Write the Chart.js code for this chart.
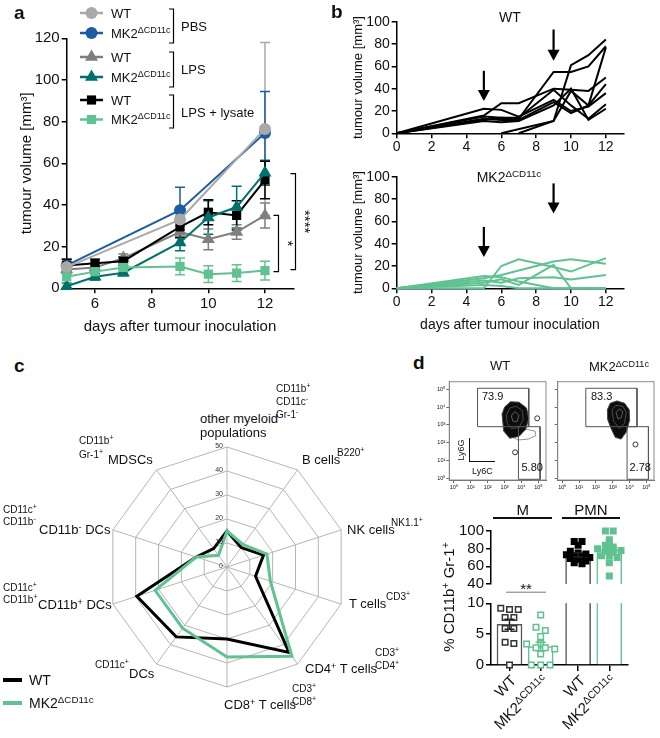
<!DOCTYPE html>
<html><head><meta charset="utf-8"><title>chart</title>
<script src="https://cdn.jsdelivr.net/npm/chart.js@4.4.1/dist/chart.umd.min.js"></script>
<style>
html,body{margin:0;padding:0;background:#fff}
body{width:660px;height:738px;position:relative;overflow:hidden;font-family:'Liberation Sans',Arial,Helvetica,sans-serif;color:#111}
canvas{position:absolute}
.t{position:absolute;white-space:nowrap;line-height:1}
.s{font-size:70%;position:relative;top:-0.48em}
.ln{position:absolute;background:#000}
</style></head><body>
<canvas id="cA" width="330" height="340" style="left:0;top:0;width:330px;height:340px"></canvas>
<canvas id="cB1" width="330" height="160" style="left:330px;top:0;width:330px;height:160px"></canvas>
<canvas id="cB2" width="330" height="178" style="left:330px;top:160px;width:330px;height:178px"></canvas>
<canvas id="cC" width="260" height="260" style="left:97px;top:437px;width:260px;height:260px"></canvas>
<canvas id="cF1" width="127" height="120" style="left:424px;top:376px;width:127px;height:120px"></canvas>
<canvas id="cF2" width="127" height="120" style="left:532px;top:376px;width:127px;height:120px"></canvas>
<canvas id="cD1" width="210" height="75" style="left:430px;top:520px;width:210px;height:75px"></canvas>
<canvas id="cD2" width="210" height="100" style="left:430px;top:580px;width:210px;height:100px"></canvas>
<script>
// ================= DATA =================
// panel a : mean tumour volume (mm3) +- error
const daysA = [5, 6, 7, 9, 10, 11, 12];
const pbsWT      = [10.2, null, null, 33, null, null, 76.5];
const pbsWTErr   = [3, null, null, 5, null, null, 41.5];
const pbsMK2     = [11, null, null, 37.5, null, null, 74.5];
const pbsMK2Err  = [3, null, null, 11, null, null, 20];
const lpsWT      = [9, 10, 14.5, 27, 23.5, 27, 35];
const lpsWTErr   = [2, 2, 2, 3, 5, 3.5, 6];
const lpsMK2     = [1, 5.5, 7.5, 22, 34, 39, 55.5];
const lpsMK2Err  = [1.5, 1.5, 1.5, 4, 8, 10, 6];
const lysWT      = [11, 12, 13, 29.5, 36.5, 35, 52];
const lysWTErr   = [3, 2, 2, 5, 6, 7, 9];
const lysMK2     = [5.5, 8, 10, 10.5, 6.8, 7.3, 8.5];
const lysMK2Err  = [3, 3, 2, 4, 4, 4, 4.5];
const ticksAx = [6, 8, 10, 12];
const ticksAy = [0, 20, 40, 60, 80, 100, 120];
// significance brackets (value range)
const sigStar1 = [35, 8];
const sigStar4 = [55, 9];

// panel b : individual mice
const daysB = [0, 5, 6, 7, 9, 10, 11, 12];
const wtMice = [
  [0, 22, 21, 15, 30, 20, 24, 36],
  [0, 16, 27, 27, 40, 39, 38, 50],
  [0, 15, 14, 13, 55, 55, 60, 78],
  [0, 13, 12, 12, 28, 18, 25, 44],
  [0, 11, 10, 11, 25, 40, 12, 22],
  [0, 12, 14, 14, 39, 25, 13, 26],
  [null, null, 0, null, 11, 61, 70, 84],
  [null, null, null, 0, 11, 38, 25, 77]
];
const mkMice = [
  [0, 11, 10, 6, 0, 0, 0, 0],
  [0, 0, 20, 26, 19, 15, 21, 27],
  [0, 9, 12, 16, 24, 26, 24, 22],
  [0, 7, 5, 9, 10, 8, 10, 12],
  [0, 5, 8, 3, 21, 0, 0, 0],
  [0, 3, 2, 0, 0, 0, 0, 0]
];
const ticksBx = [0, 2, 4, 6, 8, 10, 12];
const ticksBy = [0, 20, 40, 60, 80, 100];
// injection arrows: [day, from value, to value]
const arrowsWT = [[5, 56, 29], [9, 93, 65]];
const arrowsMK = [[5, 55, 28], [9, 94, 67]];

// panel c : radar
const radarAxes = ['other myeloid populations', 'B cells', 'NK cells', 'T cells', 'CD4+ T cells', 'CD8+ T cells', 'CD11c+ DCs', 'CD11b+ DCs', 'CD11b- DCs', 'MDSCs'];
const radarWT  = [15, 10, 16, 12.5, 44, 30, 36, 39.5, 13.5, 9.5];
const radarMK2 = [15, 11.5, 17.5, 19, 46, 37.5, 31.5, 31.5, 13.5, 6];
const radarTicks = [0, 10, 20, 30, 40, 50];

// panel d : flow plots (log10 units)
const flowTicks = [0, 1, 2, 3, 4, 5];
const gateWTUpper = [1.4, 4.43, 2.9, 5.06];
const gateWTLower = [3.82, 5.1, -0.06, 2.9];
const gateMKUpper = [1.4, 4.44, 2.9, 5.06];
const gateMKLower = [3.85, 5.12, -0.06, 2.9];
const wtOutliers = [[4.93, 3.37], [3.62, 1.46]];
const mkOutliers = [[4.35, 1.9]];
const wtTail  = [[3.7,2.6],[4.3,2.75],[4.8,2.65],[4.85,2.4],[4.4,2.2],[3.8,2.15],[3.5,2.3]];
const wtOuter = [[2.85,3.6],[3.0,4.0],[3.35,4.3],[3.85,4.28],[4.3,3.95],[4.43,3.35],[4.25,2.75],[3.85,2.35],[3.3,2.25],[2.95,2.65]];
const wtMid   = [[3.1,3.55],[3.3,3.95],[3.7,4.05],[4.05,3.8],[4.1,3.3],[3.85,2.85],[3.4,2.8],[3.15,3.1]];
const wtInner = [[3.4,3.5],[3.6,3.75],[3.85,3.55],[3.75,3.2],[3.5,3.2]];
const mkOuter = [[2.68,3.85],[2.85,4.22],[3.25,4.35],[3.7,4.22],[3.98,3.85],[4.0,3.25],[3.8,2.6],[3.5,2.2],[3.15,2.3],[2.9,2.8],[2.7,3.3]];
const mkMid   = [[2.95,3.85],[3.2,4.1],[3.6,4.05],[3.8,3.7],[3.7,3.1],[3.4,2.8],[3.05,3.2]];
const mkInner = [[3.2,3.7],[3.4,3.9],[3.6,3.75],[3.5,3.4],[3.3,3.35]];

// panel d : % CD11b+ Gr-1+
const groupX = [1, 2, 3.2, 4.2];
const catLabels = ['WT', 'MK2<span class="s">ΔCD11c</span>', 'WT', 'MK2<span class="s">ΔCD11c</span>'];
const barMeans = [6.6, 3.0, 73, 78.5];
const barErr = [0.8, 0.7, 2.5, 3];
const mWT   = [9.2, 9.0, 9.0, 7.7, 7.7, 5.9, 5.9, 3.7, 3.5, 0];
const mMK2  = [8.1, 6.1, 5.6, 4.6, 3.5, 3.4, 2.8, 2.8, 2.6, 1.8, 0, 0, 0];
const pmnWT = [88, 88, 84, 77, 75, 74, 73, 72, 71, 70, 69, 68, 66, 64, 63];
const pmnMK2= [100, 100, 90, 86, 84, 82, 80, 80, 79, 78, 77, 76, 72, 72, 70, 64, 49];
const ticksDTop = [40, 60, 80, 100];
const ticksDBot = [0, 5, 10];
const sigDStar2 = [0.888, 2.17, 11.8];

// ================= STYLE / HELPERS =================
const GREEN = '#5fc290';
Chart.defaults.font.family = "'Liberation Sans', Arial, Helvetica, sans-serif";
Chart.defaults.color = '#111';
Chart.defaults.animation = false;
Chart.defaults.responsive = false;
Chart.defaults.devicePixelRatio = 1;
Chart.defaults.events = [];
Chart.defaults.plugins.legend.display = false;
Chart.defaults.plugins.tooltip.enabled = false;

function mkAxis(o) {
  return {
    type: 'linear', position: o.pos, min: o.min, max: o.max, offset: false,
    display: o.display === false ? false : true,
    afterBuildTicks: s => { s.ticks = o.ticks.map(v => ({ value: v })); },
    afterFit: s => { if (o.size != null) { if (o.pos === 'bottom' || o.pos === 'top') s.height = o.size; else s.width = o.size; } },
    grid: { display: true, offset: false, drawOnChartArea: false, drawTicks: true, tickLength: o.tl == null ? 5 : o.tl, color: o.gc || '#000', lineWidth: o.gw || 1.5 },
    border: { display: true, color: o.gc || '#000', width: o.gw || 1.5 },
    ticks: { display: true, autoSkip: false, maxRotation: 0, minRotation: 0, padding: o.tp == null ? 2 : o.tp, font: { size: o.fs || 14 }, color: '#111', callback: o.cb || (v => String(v)) },
    title: o.title ? { display: true, text: o.title, padding: 0, font: { size: o.tfs || o.fs }, color: '#111' } : { display: false }
  };
}
function drawMarker(ctx, style, x, y, r) {
  ctx.beginPath();
  if (style === 'circle') ctx.arc(x, y, r, 0, 2 * Math.PI);
  else if (style === 'triangle') { ctx.moveTo(x, y - r); ctx.lineTo(x + 0.866 * r, y + 0.5 * r); ctx.lineTo(x - 0.866 * r, y + 0.5 * r); ctx.closePath(); }
  else { const h = r * Math.SQRT1_2; ctx.rect(x - h, y - h, 2 * h, 2 * h); }
  ctx.fill();
}
function errorBarPlugin(when, margin, cap) {
  const p = { id: 'errbars' + when };
  p[when] = function (chart) {
    const ctx = chart.ctx, xs = chart.scales.x, ys = chart.scales.y, a = chart.chartArea;
    ctx.save();
    ctx.beginPath(); ctx.rect(a.left - margin, a.top - margin, a.right - a.left + 2 * margin, a.bottom - a.top + 2 * margin); ctx.clip();
    chart.data.datasets.forEach(ds => {
      if (!ds.errorBars) return;
      ds.data.forEach((pt, j) => {
        const e = ds.errorBars[j]; if (e == null) return;
        const c = Array.isArray(ds.errorColor) ? ds.errorColor[j] : (ds.errorColor || ds.borderColor);
        ctx.strokeStyle = c; ctx.lineWidth = 1.5;
        const x = xs.getPixelForValue(pt.x), yt = ys.getPixelForValue(pt.y + e), yb = ys.getPixelForValue(pt.y - e);
        ctx.beginPath();
        ctx.moveTo(x, yt); ctx.lineTo(x, yb);
        ctx.moveTo(x - cap, yt); ctx.lineTo(x + cap, yt);
        ctx.moveTo(x - cap, yb); ctx.lineTo(x + cap, yb);
        ctx.stroke();
      });
    });
    ctx.restore();
  };
  return p;
}
function pts(xs, vals) { const out = []; xs.forEach((x, i) => { if (vals[i] != null) out.push({ x: x, y: vals[i] }); }); return out; }
function errs(vals, e) { const out = []; vals.forEach((v, i) => { if (v != null) out.push(e[i]); }); return out; }

// ================= PANEL A =================
const seriesA = [
  { vals: pbsWT, err: pbsWTErr, color: '#a9a9a9', style: 'circle', r: 6, order: 1, mk2: false },
  { vals: pbsMK2, err: pbsMK2Err, color: '#1d5c9e', style: 'circle', r: 6, order: 5, mk2: true },
  { vals: lpsWT, err: lpsWTErr, color: '#7f7f7f', style: 'triangle', r: 7.5, order: 4, mk2: false },
  { vals: lpsMK2, err: lpsMK2Err, color: '#00706c', style: 'triangle', r: 7.5, order: 2, mk2: true },
  { vals: lysWT, err: lysWTErr, color: '#000000', style: 'rect', r: 6.5, order: 3, mk2: false },
  { vals: lysMK2, err: lysMK2Err, color: GREEN, style: 'rect', r: 6.5, order: 0, mk2: true }
];
const legendA = {
  id: 'legA',
  afterDraw(chart) {
    const ctx = chart.ctx;
    const rows = [13, 33, 57, 77, 100, 119.5];
    ctx.save();
    seriesA.forEach((s, i) => {
      const y = rows[i];
      ctx.strokeStyle = s.color; ctx.fillStyle = s.color; ctx.lineWidth = 2.5;
      ctx.beginPath(); ctx.moveTo(80, y); ctx.lineTo(103, y); ctx.stroke();
      drawMarker(ctx, s.style, 91.5, y, s.r);
      ctx.fillStyle = '#111'; ctx.textBaseline = 'alphabetic'; ctx.textAlign = 'left';
      ctx.font = "13px 'Liberation Sans', Arial";
      if (!s.mk2) ctx.fillText('WT', 111, y + 4.7);
      else {
        ctx.fillText('MK2', 111, y + 4.7);
        const w = ctx.measureText('MK2').width;
        ctx.font = "9px 'Liberation Sans', Arial";
        ctx.fillText('ΔCD11c', 111 + w, y - 0.5);
      }
    });
    ctx.strokeStyle = '#000'; ctx.lineWidth = 1.2;
    const br = [[9, 43, 'PBS', 26], [52, 87, 'LPS', 69], [95, 128, 'LPS + lysate', 112]];
    br.forEach(b => {
      ctx.beginPath(); ctx.moveTo(169, b[0]); ctx.lineTo(173.5, b[0]); ctx.lineTo(173.5, b[1]); ctx.lineTo(169, b[1]); ctx.stroke();
      ctx.font = "13px 'Liberation Sans', Arial"; ctx.fillStyle = '#111';
      ctx.fillText(b[2], 181, b[3] + 4.7);
    });
    ctx.restore();
  }
};
const sigA = {
  id: 'sigA',
  afterDraw(chart) {
    const ctx = chart.ctx, ys = chart.scales.y;
    ctx.save(); ctx.strokeStyle = '#000'; ctx.lineWidth = 1.2; ctx.fillStyle = '#111';
    [[278.5, sigStar1, '*', 287], [295.5, sigStar4, '****', 304]].forEach(b => {
      const y0 = ys.getPixelForValue(b[1][0]), y1 = ys.getPixelForValue(b[1][1]);
      ctx.beginPath(); ctx.moveTo(b[0] - 5, y0); ctx.lineTo(b[0], y0); ctx.lineTo(b[0], y1); ctx.lineTo(b[0] - 5, y1); ctx.stroke();
      ctx.save(); ctx.translate(b[3], (y0 + y1) / 2); ctx.rotate(Math.PI / 2);
      ctx.font = "15px 'Liberation Sans', Arial"; ctx.textAlign = 'center'; ctx.textBaseline = 'middle';
      ctx.fillText(b[2], 0, 0); ctx.restore();
    });
    ctx.restore();
  }
};
new Chart(document.getElementById('cA'), {
  type: 'line',
  data: {
    datasets: seriesA.map(s => ({
      data: pts(daysA, s.vals), errorBars: errs(s.vals, s.err),
      borderColor: s.color, backgroundColor: s.color, borderWidth: 2, tension: 0,
      pointStyle: s.style, pointRadius: s.r, pointBackgroundColor: s.color, pointBorderWidth: 0,
      order: s.order, clip: false, spanGaps: true
    }))
  },
  options: {
    layout: { padding: { left: 17.5, top: 38.3, right: 36.7, bottom: 4.6 } },
    scales: {
      x: mkAxis({ pos: 'bottom', min: 5, max: 13, ticks: ticksAx, fs: 15, size: 47.1, title: 'days after tumour inoculation', tp: 2 }),
      y: mkAxis({ pos: 'left', min: 0, max: 120, ticks: ticksAy, fs: 15, size: 49.2, title: 'tumour volume [mm³]', tp: 2 })
    }
  },
  plugins: [errorBarPlugin('beforeDatasetsDraw', 12, 5), legendA, sigA]
});

// ================= PANEL B =================
function arrowPlugin(list) {
  return {
    id: 'arrows',
    afterDatasetsDraw(chart) {
      const ctx = chart.ctx, xs = chart.scales.x, ys = chart.scales.y;
      ctx.save(); ctx.strokeStyle = '#000'; ctx.fillStyle = '#000'; ctx.lineWidth = 2.2;
      list.forEach(a => {
        const x = xs.getPixelForValue(a[0]), y0 = ys.getPixelForValue(a[1]), y1 = ys.getPixelForValue(a[2]);
        ctx.beginPath(); ctx.moveTo(x, y0); ctx.lineTo(x, y1 - 9); ctx.stroke();
        ctx.beginPath(); ctx.moveTo(x - 6, y1 - 11); ctx.lineTo(x + 6, y1 - 11); ctx.lineTo(x, y1); ctx.closePath(); ctx.fill();
      });
      ctx.restore();
    }
  };
}
function miceChart(id, mice, color, arrows, xTitle, pad, xSize) {
  return new Chart(document.getElementById(id), {
    type: 'line',
    data: { datasets: mice.map(m => ({ data: pts(daysB, m), borderColor: color, borderWidth: 2, pointRadius: 0, tension: 0, clip: false, spanGaps: true })) },
    options: {
      layout: { padding: pad },
      scales: {
        x: mkAxis({ pos: 'bottom', min: 0, max: 13, ticks: ticksBx, fs: 14, size: xSize, title: xTitle, tp: 0 }),
        y: mkAxis({ pos: 'left', min: 0, max: 100, ticks: ticksBy, fs: 14, size: 46.5, title: 'tumour volume [mm³]', tfs: 13, tp: 2 })
      }
    },
    plugins: [arrowPlugin(arrows)]
  });
}
miceChart('cB1', wtMice, '#000', arrowsWT, null, { left: 20.2, top: 21.7, right: 36.7, bottom: 0 }, 26.7);
miceChart('cB2', mkMice, GREEN, arrowsMK, 'days after tumour inoculation', { left: 20.2, top: 16.7, right: 36.7, bottom: 4.6 }, 45.1);

// ================= PANEL C =================
const radarTickPlugin = {
  id: 'rticks',
  afterDraw(chart) {
    const r = chart.scales.r, ctx = chart.ctx;
    ctx.save(); ctx.font = "7px 'Liberation Sans', Arial"; ctx.fillStyle = '#333';
    ctx.textAlign = 'right'; ctx.textBaseline = 'middle';
    radarTicks.forEach(v => { ctx.fillText(String(v), r.xCenter - 4, r.yCenter - r.getDistanceFromCenterForValue(v) - 1); });
    ctx.restore();
  }
};
new Chart(document.getElementById('cC'), {
  type: 'radar',
  data: {
    labels: radarAxes,
    datasets: [
      { data: radarMK2, borderColor: GREEN, borderWidth: 3, pointRadius: 0, fill: false, tension: 0, borderJoinStyle: 'miter' },
      { data: radarWT, borderColor: '#000', borderWidth: 3, pointRadius: 0, fill: false, tension: 0, borderJoinStyle: 'miter' }
    ]
  },
  options: {
    layout: { padding: 10 },
    scales: {
      r: {
        min: 0, max: 50, beginAtZero: true,
        ticks: { display: false, stepSize: 10 },
        pointLabels: { display: false },
        grid: { color: '#b5b5b5', lineWidth: 1, circular: false },
        angleLines: { color: '#b5b5b5', lineWidth: 1 }
      }
    }
  },
  plugins: [radarTickPlugin]
});

// ================= PANEL D : FLOW =================
const supd = ['⁰', '¹', '²', '³', '⁴', '⁵'];
function contourPlugin(list) {
  return {
    id: 'contours',
    beforeDatasetsDraw(chart) {
      const ctx = chart.ctx, xs = chart.scales.x, ys = chart.scales.y, a = chart.chartArea;
      ctx.save();
      ctx.strokeStyle = '#8a8a8a'; ctx.lineWidth = 1; ctx.strokeRect(a.left, a.top, a.right - a.left, a.bottom - a.top);
      list.forEach(c => {
        ctx.beginPath();
        c.pts.forEach((p, i) => { const x = xs.getPixelForValue(p[0]), y = ys.getPixelForValue(p[1]); if (i === 0) ctx.moveTo(x, y); else ctx.lineTo(x, y); });
        ctx.closePath();
        if (c.fill) { ctx.fillStyle = c.fill; ctx.fill(); }
        if (c.stroke) { ctx.strokeStyle = c.stroke; ctx.lineWidth = c.lw || 0.8; ctx.stroke(); }
      });
      ctx.restore();
    }
  };
}
function gateDS(g) {
  return { data: [{ x: g[0], y: g[2] }, { x: g[0], y: g[3] }, { x: g[1], y: g[3] }, { x: g[1], y: g[2] }, { x: g[0], y: g[2] }],
    showLine: true, borderColor: '#555', borderWidth: 1, pointRadius: 0, clip: false, tension: 0 };
}
function flowChart(id, gates, outliers, contours, yLabels, yWidth, padRight) {
  const ds = gates.map(gateDS);
  ds.unshift({ data: outliers.map(p => ({ x: p[0], y: p[1] })), pointRadius: 2.5, pointBackgroundColor: '#fff', pointBorderColor: '#333', pointBorderWidth: 1, showLine: false, clip: false });
  return new Chart(document.getElementById(id), {
    type: 'scatter',
    data: { datasets: ds },
    options: {
      layout: { padding: { left: 0, top: 5.7, right: padRight, bottom: 0 } },
      scales: {
        x: mkAxis({ pos: 'bottom', min: -0.27, max: 5.45, ticks: flowTicks, fs: 5.5, size: 16, tl: 3, gc: '#666', gw: 1, tp: 1, cb: v => '10' + supd[v] }),
        y: mkAxis({ pos: 'left', min: -0.1, max: 5.43, ticks: flowTicks, fs: 5.5, size: yWidth, tl: 3, gc: '#666', gw: 1, tp: 1, cb: yLabels ? (v => '10' + supd[v]) : (() => '') })
      }
    },
    plugins: [contourPlugin(contours)]
  });
}
flowChart('cF1', [gateWTUpper, gateWTLower], wtOutliers, [
  { pts: wtTail, stroke: '#777', lw: 0.8 },
  { pts: wtOuter, fill: '#0d0d0d', stroke: '#444', lw: 1 },
  { pts: wtMid, stroke: '#888', lw: 0.5 },
  { pts: wtInner, stroke: '#aaa', lw: 0.5 }
], true, 25.3, 2.7);
flowChart('cF2', [gateMKUpper, gateMKLower], mkOutliers, [
  { pts: mkOuter, fill: '#0d0d0d', stroke: '#444', lw: 1 },
  { pts: mkMid, stroke: '#888', lw: 0.5 },
  { pts: mkInner, stroke: '#aaa', lw: 0.5 }
], false, 25.7, 2.3);

// ================= PANEL D : BARS =================
function swarm(vals, bin, spacing) {
  const groups = {}, offs = [];
  vals.forEach((v, i) => { const k = Math.round(v / bin); (groups[k] = groups[k] || []).push(i); });
  Object.values(groups).forEach(idx => idx.forEach((i, j) => { offs[i] = (j - (idx.length - 1) / 2) * spacing; }));
  return offs;
}
function dotDS(vals, gx, bin, spacing, border, fill) {
  const o = swarm(vals, bin, spacing);
  return { type: 'scatter', data: vals.map((v, i) => ({ x: gx + o[i], y: v })), pointStyle: 'rect', pointRadius: 3.9,
    pointBorderColor: border, pointBackgroundColor: fill, pointBorderWidth: 1.5, clip: false, order: 0 };
}
function barDS() {
  return { type: 'bar', data: groupX.map((x, i) => ({ x: x, y: barMeans[i] })), errorBars: barErr, errorColor: ['#222', GREEN, '#222', GREEN],
    backgroundColor: '#fff', borderColor: ['#555', GREEN, '#555', GREEN], borderWidth: 1.5, barThickness: 25, clip: 0, order: 5, grouped: false };
}
new Chart(document.getElementById('cD1'), {
  type: 'bar',
  data: { datasets: [barDS(), dotDS(pmnWT, groupX[2], 4, 0.25, '#000', '#000'), dotDS(pmnMK2, groupX[3], 4, 0.25, GREEN, GREEN)] },
  options: {
    layout: { padding: { left: 0, top: 11, right: 12, bottom: 8.3 } },
    scales: {
      x: mkAxis({ pos: 'bottom', min: 0.407, max: 4.8, ticks: groupX, display: false }),
      y: mkAxis({ pos: 'left', min: 40, max: 100, ticks: ticksDTop, fs: 15, size: 61, tl: 5, tp: 2 })
    }
  },
  plugins: [errorBarPlugin('afterDatasetsDraw', 0, 5)]
});
const sigD = {
  id: 'sigD',
  afterDraw(chart) {
    const ctx = chart.ctx, xs = chart.scales.x, ys = chart.scales.y;
    const x0 = xs.getPixelForValue(sigDStar2[0]), x1 = xs.getPixelForValue(sigDStar2[1]), y = ys.getPixelForValue(sigDStar2[2]);
    ctx.save(); ctx.strokeStyle = '#777'; ctx.lineWidth = 1;
    ctx.beginPath(); ctx.moveTo(x0, y); ctx.lineTo(x1, y); ctx.stroke();
    ctx.fillStyle = '#111'; ctx.font = "15px 'Liberation Sans', Arial"; ctx.textAlign = 'center'; ctx.textBaseline = 'alphabetic';
    ctx.fillText('**', (x0 + x1) / 2, y + 2);
    ctx.restore();
  }
};
const chartD2 = new Chart(document.getElementById('cD2'), {
  type: 'bar',
  data: { datasets: [barDS(), dotDS(mWT, groupX[0], 1, 0.28, '#333', '#fff'), dotDS(mMK2, groupX[1], 1, 0.3, GREEN, '#fff')] },
  options: {
    layout: { padding: { left: 0, top: 23.3, right: 12, bottom: 5 } },
    scales: {
      x: mkAxis({ pos: 'bottom', min: 0.407, max: 4.8, ticks: groupX, size: 10, tl: 6, cb: () => '' }),
      y: mkAxis({ pos: 'left', min: 0, max: 10, ticks: ticksDBot, fs: 15, size: 61, tl: 5, tp: 2 })
    }
  },
  plugins: [errorBarPlugin('afterDatasetsDraw', 0, 5), sigD]
});

// ================= TEXT =================
const sp = s => '<span class="s">' + s + '</span>';
function T(x, y, html, fs, opt) {
  opt = opt || {};
  const d = document.createElement('div'); d.className = 't'; d.innerHTML = html;
  d.style.fontSize = fs + 'px'; d.style.left = x + 'px'; d.style.top = (y - fs * 0.52) + 'px';
  if (opt.center) d.style.transform = 'translateX(-50%)';
  if (opt.bold) d.style.fontWeight = 'bold';
  if (opt.rot) { d.style.transform = 'translate(-50%,-50%) rotate(-90deg)'; d.style.top = y + 'px'; }
  document.body.appendChild(d); return d;
}
function L(x, y, w, h, c) { const d = document.createElement('div'); d.className = 'ln'; d.style.left = x + 'px'; d.style.top = y + 'px'; d.style.width = w + 'px'; d.style.height = h + 'px'; if (c) d.style.background = c; document.body.appendChild(d); }

// panel letters
T(14, 13, 'a', 19, { bold: true });
T(331, 12, 'b', 19, { bold: true });
T(14, 366, 'c', 19, { bold: true });
T(413, 363, 'd', 19, { bold: true });

// panel b titles
T(510, 17, 'WT', 14, { center: true });
T(476.7, 177, 'MK2' + sp('ΔCD11c'), 14);

// radar labels
T(200, 419, 'other myeloid', 13); T(200, 433, 'populations', 13);
T(276, 389, 'CD11b' + sp('+'), 10); T(276, 402, 'CD11c' + sp('-'), 10); T(276, 415, 'Gr-1' + sp('-'), 10);
T(302, 460, 'B cells', 13); T(337, 453, 'B220' + sp('+'), 10);
T(347, 530, 'NK cells', 13); T(391, 523, 'NK1.1' + sp('+'), 10);
T(349, 604, 'T cells', 13); T(386, 597, 'CD3' + sp('+'), 10);
T(305, 669, 'CD4' + sp('+') + ' T cells', 13); T(375, 653, 'CD3' + sp('+'), 10); T(375, 666, 'CD4' + sp('+'), 10);
T(224, 705, 'CD8' + sp('+') + ' T cells', 13); T(292, 689, 'CD3' + sp('+'), 10); T(292, 702, 'CD8' + sp('+'), 10);
T(129, 674, 'DCs', 13); T(95, 665, 'CD11c' + sp('+'), 10);
T(38, 605, 'CD11b' + sp('+') + ' DCs', 13); T(3, 588, 'CD11c' + sp('+'), 10); T(3, 600, 'CD11b' + sp('+'), 10);
T(39, 530, 'CD11b' + sp('-') + ' DCs', 13); T(3, 510, 'CD11c' + sp('+'), 10); T(3, 522, 'CD11b' + sp('-'), 10);
T(108, 460, 'MDSCs', 13); T(79, 441, 'CD11b' + sp('+'), 10); T(79, 455, 'Gr-1' + sp('+'), 10);
// radar legend
L(3, 678, 19, 4, '#000'); T(29, 680, 'WT', 14);
L(3, 701, 19, 4, GREEN); T(29, 703, 'MK2' + sp('ΔCD11c'), 14);

// flow labels
T(500, 366, 'WT', 13, { center: true });
T(589, 367, 'MK2' + sp('ΔCD11c'), 13);
T(482, 397, '73.9', 11); T(521.5, 468, '5.80', 11);
T(591, 397, '83.3', 11); T(629.5, 468, '2.78', 11);
L(468.5, 437.5, 1.3, 24.5, '#111'); L(468.5, 460.8, 26, 1.3, '#111');
T(461, 450, 'Ly6G', 9, { rot: true }); T(472, 471.5, 'Ly6C', 9);

// bar headers
T(522.7, 510, 'M', 15, { center: true }); T(591, 510, 'PMN', 15, { center: true });
L(493, 516.5, 59, 2, '#111'); L(562, 516.5, 58, 2, '#111');
T(448, 597, '% CD11b' + sp('+') + ' Gr-1' + sp('+'), 15, { rot: true });
// rotated category labels
const xsD = chartD2.scales.x;
catLabels.forEach((lab, i) => {
  const cx = 430 + xsD.getPixelForValue(groupX[i]);
  const d = document.createElement('div'); d.className = 't'; d.innerHTML = lab;
  d.style.fontSize = '15px'; d.style.right = (660 - (cx + 4)) + 'px'; d.style.top = (677 - 7.5) + 'px';
  d.style.transformOrigin = '100% 50%'; d.style.transform = 'rotate(-45deg)';
  document.body.appendChild(d);
});
</script>
</body></html>
